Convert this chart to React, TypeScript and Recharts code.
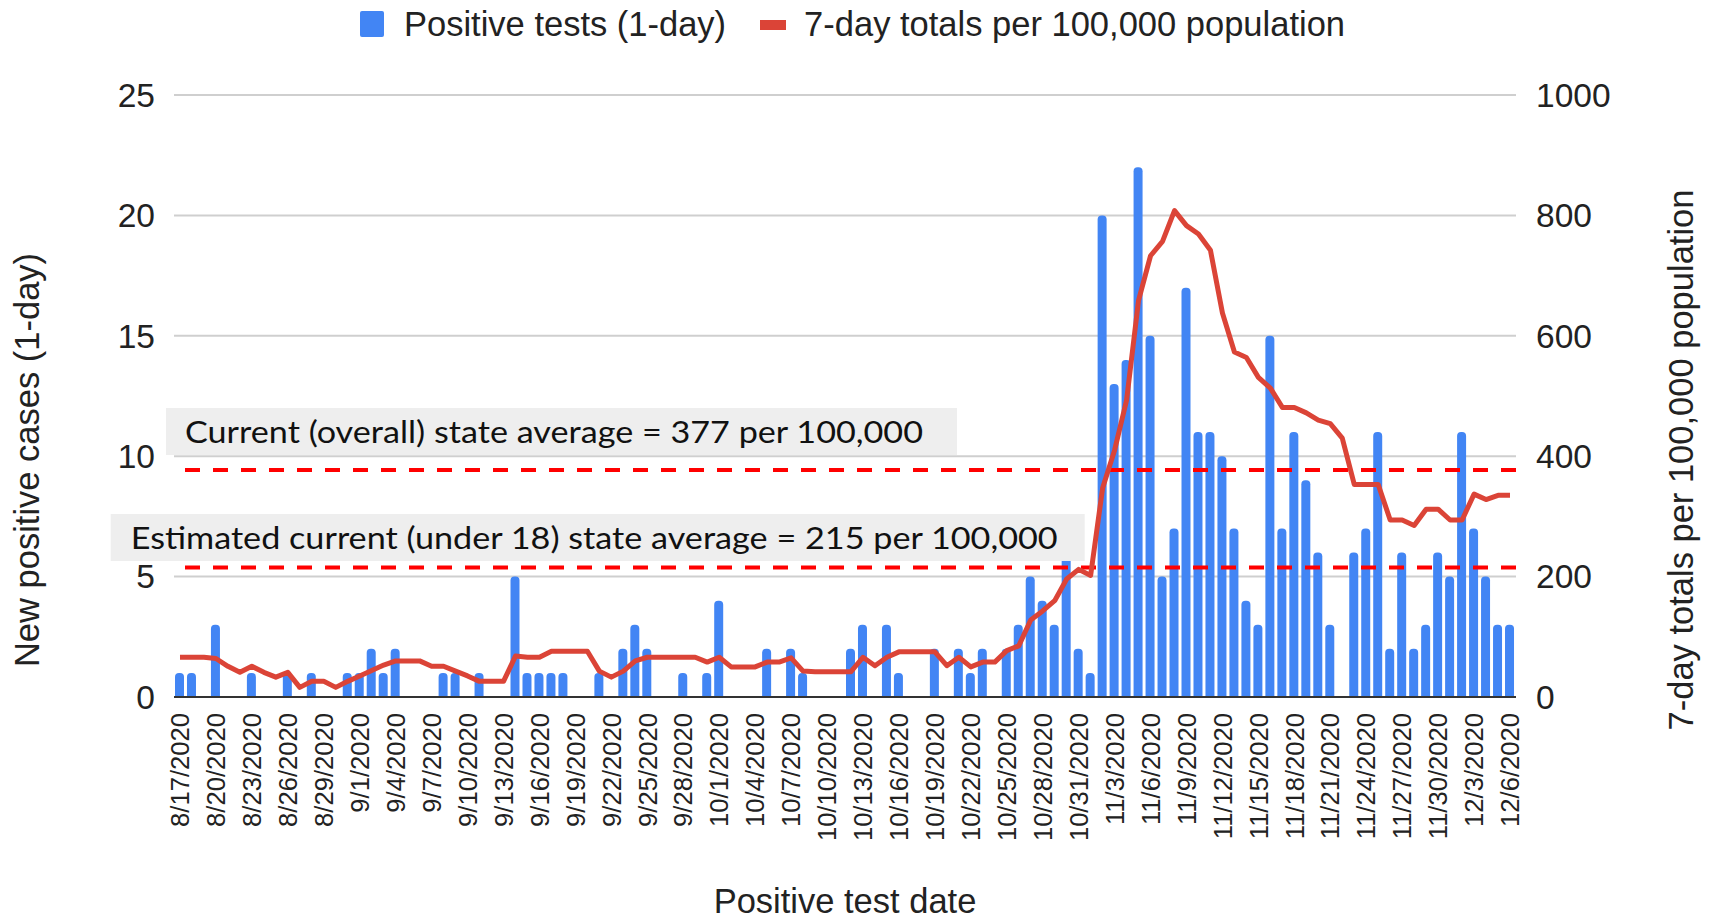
import React from 'react';
import {
  ComposedChart,
  Bar,
  Line,
  XAxis,
  YAxis,
  CartesianGrid,
  ReferenceLine,
  Label
} from 'recharts';

// one category per day, 8/17/2020 .. 12/6/2020
const monthSpans = [
  { month: 8, from: 17, to: 31 },
  { month: 9, from: 1, to: 30 },
  { month: 10, from: 1, to: 31 },
  { month: 11, from: 1, to: 30 },
  { month: 12, from: 1, to: 6 }
];

const testDates: string[] = monthSpans.flatMap(({ month, from, to }) =>
  Array.from({ length: to - from + 1 }, (_, k) => `${month}/${from + k}/2020`)
);

const positiveTests = [
  1, 1, 0, 3, 0, 0, 1, 0, 0, 1, 0, 1, 0, 0, 1,
  1, 2, 1, 2, 0, 0, 0, 1, 1, 0, 1, 0, 0, 5, 1, 1, 1, 1, 0, 0, 1, 0, 2, 3, 2, 0, 0, 1, 0, 1,
  4, 0, 0, 0, 2, 0, 2, 1, 0, 0, 0, 2, 3, 0, 3, 1, 0, 0, 2, 0, 2, 1, 2, 0, 2, 3, 5, 4, 3, 6, 2,
  1, 20, 13, 14, 22, 15, 5, 7, 17, 11, 11, 10, 7, 4, 3, 15, 7, 11, 9, 6, 3, 0, 6, 7, 11, 2, 6, 2, 3, 6,
  5, 11, 7, 5, 3, 3
];

const weeklyPer100k = [
  66, 66, 66, 64, 51, 41, 51, 41, 33, 41, 16, 26, 26, 16, 26,
  35, 44, 53, 60, 60, 60, 51, 51, 43, 35, 26, 26, 26, 68, 66, 66, 76, 76, 76, 76, 43, 33, 43, 60, 66, 66, 66, 66, 66, 58,
  66, 50, 50, 50, 58, 58, 65, 43, 42, 42, 42, 42, 66, 52, 66, 75, 75, 75, 75, 52, 66, 50, 58, 58, 77, 85, 128, 143, 160, 196, 212,
  202, 347, 410, 493, 659, 733, 757, 808, 783, 769, 742, 638, 573, 564, 531, 513, 481, 481, 472, 460, 454, 430, 353, 353, 353, 294, 294, 285, 312, 312,
  294, 294, 337, 328, 335, 335
];

const leftTicks = [0, 5, 10, 15, 20, 25];
const rightTicks = [0, 200, 400, 600, 800, 1000];

const stateAverages = [377, 215];
const stateAverageNotes = [
  'Current (overall) state average = 377 per 100,000',
  'Estimated current (under 18) state average = 215 per 100,000'
];

const chartData = testDates.map((date, i) => ({
  date,
  positive: positiveTests[i],
  weekly: weeklyPer100k[i]
}));

const ARIAL = '"Liberation Sans", Arial, sans-serif';
const NOTE_FONT = 'Lato, "Open Sans", sans-serif';

// grey boxes sitting just above each dashed line
const noteBoxes = [
  { boxX: 166, boxW: 791, top: -62, h: 47, textX: 185, textW: 738, base: -27 },
  { boxX: 110.7, boxW: 974, top: -53.6, h: 47, textX: 130.7, textW: 927, base: -18.3 }
];

const NoteBox = ({ viewBox, idx }: any) => {
  const b = noteBoxes[idx];
  const y = viewBox.y;
  return (
    <g>
      <rect x={b.boxX} y={y + b.top} width={b.boxW} height={b.h} fill="#eeeeee" />
      <text
        x={b.textX}
        y={y + b.base}
        fontFamily={NOTE_FONT}
        fontSize={30}
        fill="#111"
        textLength={b.textW}
        lengthAdjust="spacingAndGlyphs"
      >
        {stateAverageNotes[idx]}
      </text>
    </g>
  );
};

const DateTick = ({ x, y, payload }: any) => (
  <text
    x={0}
    y={0}
    transform={`translate(${x},${y}) rotate(-90)`}
    textAnchor="end"
    dy="0.36em"
    fontFamily={ARIAL}
    fontSize={25.6}
    fill="#222"
  >
    {payload.value}
  </text>
);

const RotatedTitle = ({ cx, cy, text }: any) => (
  <text
    x={0}
    y={0}
    transform={`translate(${cx},${cy}) rotate(-90)`}
    textAnchor="middle"
    dy="0.36em"
    fontFamily={ARIAL}
    fontSize={34.5}
    fill="#222"
  >
    {text}
  </text>
);

const App = () => {
  return (
    <div style={{ position: 'absolute', left: 0, top: 0, width: 1712, height: 923, background: '#fff' }}>
      <div style={{
        position: 'absolute',
        left: 360,
        top: 0,
        height: 48,
        display: 'flex',
        alignItems: 'center',
        whiteSpace: 'nowrap',
        fontFamily: ARIAL,
        fontSize: 34.5,
        lineHeight: 1,
        color: '#222'
      }}>
        <span style={{ display: 'inline-block', width: 24, height: 26, background: '#4285f4', borderRadius: 2 }} />
        <span style={{ marginLeft: 20 }}>Positive tests (1-day)</span>
        <span style={{ display: 'inline-block', width: 26, height: 10, background: '#db4437', marginLeft: 34, marginTop: 2 }} />
        <span style={{ marginLeft: 18 }}>7-day totals per 100,000 population</span>
      </div>

      <ComposedChart
        width={1712}
        height={923}
        data={chartData}
        margin={{ top: 95, right: 96, bottom: 76, left: 74 }}
        barCategoryGap={0}
      >
        <CartesianGrid yAxisId="left" vertical={false} stroke="#cfcfcf" strokeWidth={2} />

        <XAxis
          dataKey="date"
          interval={2}
          height={150}
          tickSize={0}
          tickMargin={16}
          tick={<DateTick />}
          axisLine={{ stroke: '#333', strokeWidth: 2 }}
          tickLine={false}
        >
          <Label
            content={(p: any) => (
              <text
                x={p.viewBox.x + p.viewBox.width / 2}
                y={p.viewBox.y + 216}
                textAnchor="middle"
                fontFamily={ARIAL}
                fontSize={34.5}
                fill="#222"
              >
                Positive test date
              </text>
            )}
          />
        </XAxis>

        <YAxis
          yAxisId="left"
          width={100}
          domain={[0, 25]}
          ticks={leftTicks}
          tickSize={0}
          tickMargin={19}
          axisLine={false}
          tickLine={false}
          tick={{ fontSize: 33.5, fill: '#222', fontFamily: ARIAL }}
        >
          <Label
            content={(p: any) => (
              <RotatedTitle
                cx={p.viewBox.x - 47}
                cy={p.viewBox.y + p.viewBox.height / 2 + 64}
                text="New positive cases (1-day)"
              />
            )}
          />
        </YAxis>

        <YAxis
          yAxisId="right"
          orientation="right"
          width={100}
          domain={[0, 1000]}
          ticks={rightTicks}
          tickSize={0}
          tickMargin={20}
          axisLine={false}
          tickLine={false}
          tick={{ fontSize: 33.5, fill: '#222', fontFamily: ARIAL }}
        >
          <Label
            content={(p: any) => (
              <RotatedTitle
                cx={p.viewBox.x + 165}
                cy={p.viewBox.y + p.viewBox.height / 2 + 64}
                text="7-day totals per 100,000 population"
              />
            )}
          />
        </YAxis>

        <Bar
          yAxisId="left"
          dataKey="positive"
          fill="#4285f4"
          barSize={9}
          radius={[4, 4, 0, 0]}
          isAnimationActive={false}
        />

        {stateAverages.map((v, idx) => (
          <ReferenceLine
            key={v}
            yAxisId="right"
            y={v}
            stroke="#ff0000"
            strokeWidth={4}
            strokeDasharray="15 13"
            label={(p: any) => <NoteBox {...p} idx={idx} />}
          />
        ))}

        <Line
          yAxisId="right"
          type="linear"
          dataKey="weekly"
          stroke="#db4437"
          strokeWidth={5}
          strokeLinejoin="round"
          dot={false}
          activeDot={false}
          isAnimationActive={false}
        />
      </ComposedChart>
    </div>
  );
};

export default App;
